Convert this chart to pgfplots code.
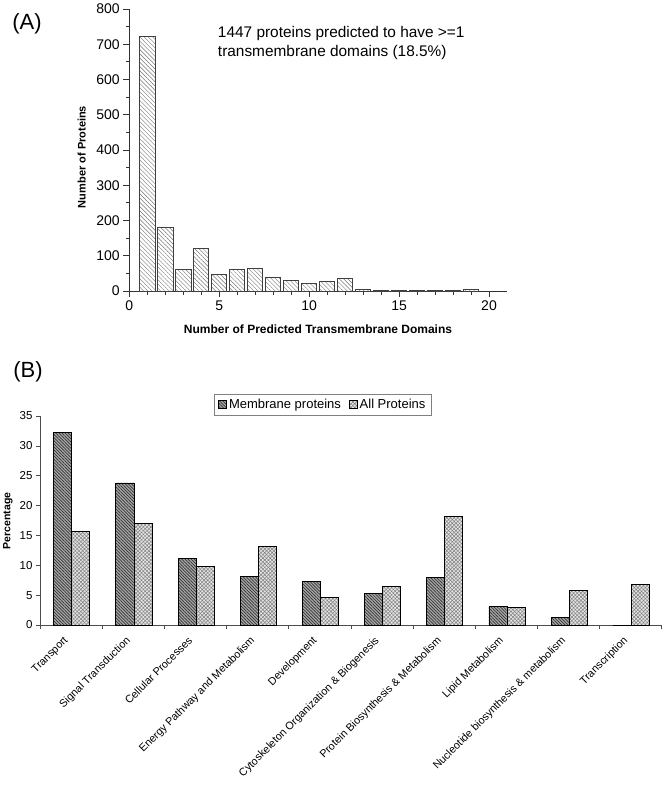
\documentclass[border=0pt]{standalone}
\usepackage{fontspec}
\setmainfont{Liberation Sans}
\usepackage{pgfplots}
\pgfplotsset{compat=1.18}
\usetikzlibrary{patterns,patterns.meta}
\begin{document}
\begin{tikzpicture}
\path[use as bounding box] (0,0) rectangle (670pt,-788pt);
% ---------------- Panel A ----------------
\node[font=\fontsize{22}{24}\selectfont] at (27pt,-24pt) {(A)};
\begin{axis}[
  at={(129.3pt,-291pt)}, anchor=south west,
  scale only axis, width=377.7pt, height=282pt,
  xmin=0, xmax=21, ymin=0, ymax=800,
  axis x line*=bottom, axis y line*=left,
  axis line style={black!80, line width=0.8pt},
  xtick={0,5,10,15,20}, minor x tick num=4,
  ytick={0,100,...,800}, minor y tick num=1,
  tick align=outside,
  major tick length=6pt, minor tick length=3.5pt,
  every tick/.style={black!80, line width=0.8pt},
  /pgf/number format/assume math mode=true,
  tick label style={font=\fontsize{14}{16}\selectfont},
  ybar, bar width=0.85,
]
\addplot[draw=black!75, line width=0.8pt,
  pattern={Lines[angle=-45,distance=3pt,line width=0.4pt]}, pattern color=black!55]
  coordinates {(1,722) (2,181) (3,61) (4,122) (5,47) (6,60) (7,65) (8,40) (9,30) (10,22)
  (11,26) (12,36) (13,4) (14,2) (15,1) (16,1) (17,1) (18,1) (19,4)};
\node[anchor=north west, align=left, inner sep=0pt, font=\fontsize{15.4}{19}\selectfont]
  at (axis cs:4.92,752) {1447 proteins predicted to have >=1\\transmembrane domains (18.5\%)};
\end{axis}
\node[rotate=90, font=\bfseries\fontsize{11}{13}\selectfont] at (81.6pt,-157pt) {Number of Proteins};
\node[font=\bfseries\fontsize{12}{14}\selectfont] at (318pt,-329.3pt) {Number of Predicted Transmembrane Domains};
% ---------------- Panel B ----------------
\node[font=\fontsize{22}{24}\selectfont] at (28pt,-372pt) {(B)};
\begin{axis}[
  at={(40pt,-625pt)}, anchor=south west,
  scale only axis, width=621.7pt, height=209pt,
  xmin=-0.5, xmax=9.5, ymin=0, ymax=35,
  axis x line*=bottom, axis y line*=left,
  axis line style={black!70, line width=0.7pt},
  xtick={0,...,9},
  xticklabels={Transport, Signal Transduction, Cellular Processes, Energy Pathway and Metabolism, Development, Cytoskeleton Organization \& Biogenesis, Protein Biosynthesis \& Metabolism, Lipid Metabolism, Nucleotide biosynthesis \& metabolism, Transcription},
  minor xtick={-0.5,0.5,...,9.5},
  ytick={0,5,...,35},
  tick align=outside,
  major tick length=4pt, minor tick length=4pt,
  major x tick style={draw=none},
  every tick/.style={black!70, line width=0.7pt},
  /pgf/number format/assume math mode=true,
  yticklabel style={font=\fontsize{11.5}{13}\selectfont},
  xticklabel style={xshift=-8pt, yshift=-5pt, rotate=45, anchor=north east, inner sep=1pt, font=\fontsize{10.8}{12}\selectfont},
  ybar, bar width=0.29,
  legend style={at={(0.455,1.055)}, anchor=center, legend columns=2, draw=black!50,
    font=\fontsize{13}{15}\selectfont, inner xsep=4pt, inner ysep=3pt,
    /tikz/every even column/.append style={column sep=6pt}},
  legend image code/.code={\draw[#1] (0pt,-4pt) rectangle (8pt,4pt);},
]
\addplot[bar shift=-0.135, draw=black, line width=0.7pt, fill=black!35,
  postaction={pattern={Lines[angle=-45,distance=2.2pt,line width=0.7pt]}, pattern color=black!80}]
  coordinates {(0,32.2) (1,23.8) (2,11.2) (3,8.1) (4,7.3) (5,5.3) (6,7.95) (7,3.07) (8,1.3) (9,0)};
\addplot[bar shift=0.155, draw=black, line width=0.7pt, fill=black!10,
  postaction={pattern={Hatch[angle=45,distance=2.6pt,line width=0.5pt]}, pattern color=black!50}]
  coordinates {(0,15.7) (1,17.05) (2,9.75) (3,13.15) (4,4.63) (5,6.4) (6,18.25) (7,2.95) (8,5.8) (9,6.8)};
\legend{Membrane proteins, All Proteins}
\end{axis}
\node[rotate=90, font=\bfseries\fontsize{10.5}{12}\selectfont] at (8pt,-521pt) {Percentage};
\end{tikzpicture}
\end{document}
